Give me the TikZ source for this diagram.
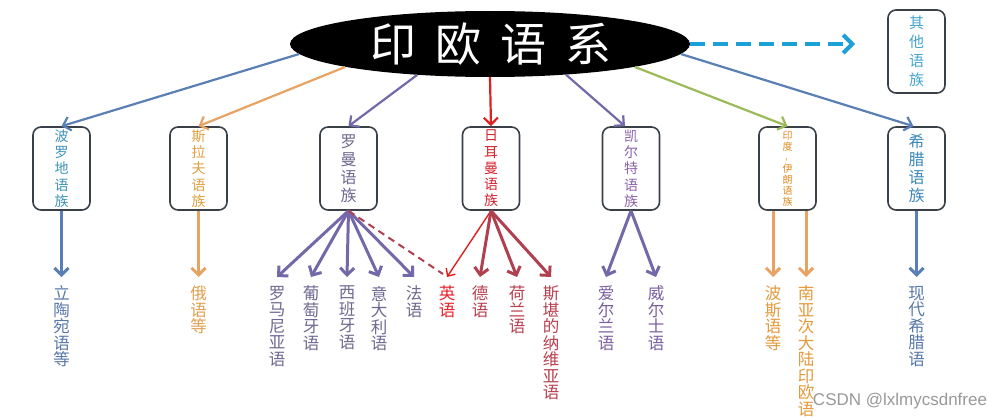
\documentclass[tikz,border=0pt]{standalone}
\usepackage{fontspec}
\setmainfont{Noto Sans CJK SC}
\newfontfamily\wmfont{Liberation Sans}
\usetikzlibrary{arrows.meta,shapes.geometric}
\definecolor{boxgray}{HTML}{3A4048}
\definecolor{cblue}{HTML}{5A7FB5}
\definecolor{corange}{HTML}{E8A262}
\definecolor{cpurple}{HTML}{7468A8}
\definecolor{cred}{HTML}{E02020}
\definecolor{cdred}{HTML}{B04050}
\definecolor{cgreen}{HTML}{9BBB59}
\definecolor{ccyan}{HTML}{1BA1D6}
\definecolor{tbaltic}{HTML}{3C94B8}
\definecolor{tslav}{HTML}{E0A040}
\definecolor{trom}{HTML}{6E6890}
\definecolor{tgerm}{HTML}{D8202F}
\definecolor{tcelt}{HTML}{8A62AC}
\definecolor{tindo}{HTML}{E08A20}
\definecolor{tgreek}{HTML}{3B88B8}
\definecolor{tother}{HTML}{45A5CC}
\definecolor{lblue}{HTML}{5878A8}
\definecolor{lorange}{HTML}{E0A050}
\definecolor{lrom}{HTML}{6F6890}
\definecolor{leng}{HTML}{E8202A}
\definecolor{lgerm}{HTML}{B8404F}
\definecolor{lcelt}{HTML}{7A5FA0}
\definecolor{lindo}{HTML}{E39A3A}
\begin{document}
\begin{tikzpicture}[x=1pt,y=-1pt,
  fam/.style={draw=boxgray, line width=1.6pt, rounded corners=8pt,
    minimum width=57pt, minimum height=83pt, inner sep=0pt, align=center,
    font=\fontsize{14}{16.3}\selectfont},
  leaf/.style={anchor=north, inner sep=0pt, outer xsep=0pt, outer ysep=9pt,
    align=center, font=\fontsize{16.5}{16.5}\selectfont},
  tip/.style={-{Straight Barb[length=7pt,width=14pt]}},
  toparr/.style={tip, line width=2.2pt},
  fan/.style={tip, line width=3pt},
]
\useasboundingbox (0,0) rectangle (996,420);
\fill[white] (0,0) rectangle (996,420);

% title
\node[ellipse, fill=black, minimum width=400pt, minimum height=66pt, inner sep=0pt] (title) at (490,44) {};
\node[text=white, inner sep=0pt, font=\fontsize{46}{46}\selectfont] (titletext) at (491,44)
  {印\hspace{19pt}欧\hspace{19pt}语\hspace{19pt}系};

% family boxes
\node[fam, text=tbaltic] (baltic) at (61.5,168.5) {波\\罗\\地\\语\\族};
\node[fam, text=tslav] (slavic) at (198.5,168.5) {斯\\拉\\夫\\语\\族};
\node[fam, text=trom, font=\fontsize{16}{18}\selectfont] (romance) at (348.5,168.5) {罗\\曼\\语\\族};
\node[fam, text=tgerm] (german) at (491,168.5) {日\\耳\\曼\\语\\族};
\node[fam, text=tcelt] (celtic) at (631,168.5) {凯\\尔\\特\\语\\族};
\node[fam, text=tindo, font=\fontsize{10}{11}\selectfont] (indoiran) at (787.5,168.5) {印\\度\\\rotatebox{90}{-}\\伊\\朗\\语\\族};
\node[fam, text=tgreek, font=\fontsize{16}{18}\selectfont] (greek) at (916.5,168.5) {希\\腊\\语\\族};
\node[fam, text=tother, font=\fontsize{15}{19}\selectfont] (other) at (916.5,51.5) {其\\他\\语\\族};

% leaves
\node[leaf, text=lblue] (lit) at (61.5,277) {立\\陶\\宛\\语\\等};
\node[leaf, text=lorange] (rus) at (198.5,277) {俄\\语\\等};
\node[leaf, text=lrom] (rom1) at (277,277) {罗\\马\\尼\\亚\\语};
\node[leaf, text=lrom] (rom2) at (311,277) {葡\\萄\\牙\\语};
\node[leaf, text=lrom] (rom3) at (347,277) {西\\班\\牙\\语};
\node[leaf, text=lrom] (rom4) at (379,277) {意\\大\\利\\语};
\node[leaf, text=lrom] (rom5) at (414,277) {法\\语};
\node[leaf, text=leng] (eng) at (447,277) {英\\语};
\node[leaf, text=lgerm] (deu) at (480,277) {德\\语};
\node[leaf, text=lgerm] (nld) at (517,277) {荷\\兰\\语};
\node[leaf, text=lgerm] (sca) at (551,277) {斯\\堪\\的\\纳\\维\\亚\\语};
\node[leaf, text=lcelt] (gle) at (606,277) {爱\\尔\\兰\\语};
\node[leaf, text=lcelt] (cym) at (656,277) {威\\尔\\士\\语};
\node[leaf, text=lindo] (fas) at (773,277) {波\\斯\\语\\等};
\node[leaf, text=lindo] (ind) at (806,277) {南\\亚\\次\\大\\陆\\印\\欧\\语};
\node[leaf, text=lblue] (ell) at (916.5,277) {现\\代\\希\\腊\\语};

% arrows from title
\draw[toparr, cblue] (title.183) -- (baltic.north);
\draw[toparr, corange] (title.189) -- (slavic.north);
\draw[toparr, cpurple] (title.203) -- (romance.north);
\draw[toparr, cred] (title.270) -- (german.north);
\draw[toparr, cpurple] (title.-22) -- ([xshift=-6pt]celtic.north);
\draw[toparr, cgreen] (title.-9) -- (indoiran.north);
\draw[toparr, cblue] (title.-3) -- ([xshift=-3pt]greek.north);
\coordinate (dashend) at (855,44);
\draw[ccyan, line width=4pt, dash pattern=on 15pt off 8pt,
  -{Straight Barb[length=9pt,width=18pt]}] (title.0) -- (dashend);

% arrows to leaves
\draw[fan, cblue] (baltic.south) -- (lit.north);
\draw[fan, corange] (slavic.south) -- (rus.north);
\foreach \n in {rom1,rom2,rom3,rom4,rom5}
  \draw[fan, cpurple] (romance.south) -- (\n.north);
\draw[cdred, line width=2pt, dash pattern=on 7pt off 5pt] (romance.south) -- ([xshift=-4pt,yshift=3pt]eng.north);
\draw[-{Straight Barb[length=6pt,width=11pt]}, cred, line width=1.4pt] (german.south) -- (eng.north);
\foreach \n in {deu,nld,sca}
  \draw[fan, cdred] (german.south) -- (\n.north);
\draw[fan, cpurple] (celtic.south) -- (gle.north);
\draw[fan, cpurple] (celtic.south) -- (cym.north);
\draw[fan, corange] (indoiran.south -| fas.north) -- (fas.north);
\draw[fan, corange] (indoiran.south -| ind.north) -- (ind.north);
\draw[fan, cblue] (greek.south) -- (ell.north);

% watermark
\node[text=gray!80, inner sep=0pt, font=\wmfont\fontsize{17}{17}\selectfont] (wm) at (900,401) {CSDN @lxlmycsdnfree};
\end{tikzpicture}
\end{document}
